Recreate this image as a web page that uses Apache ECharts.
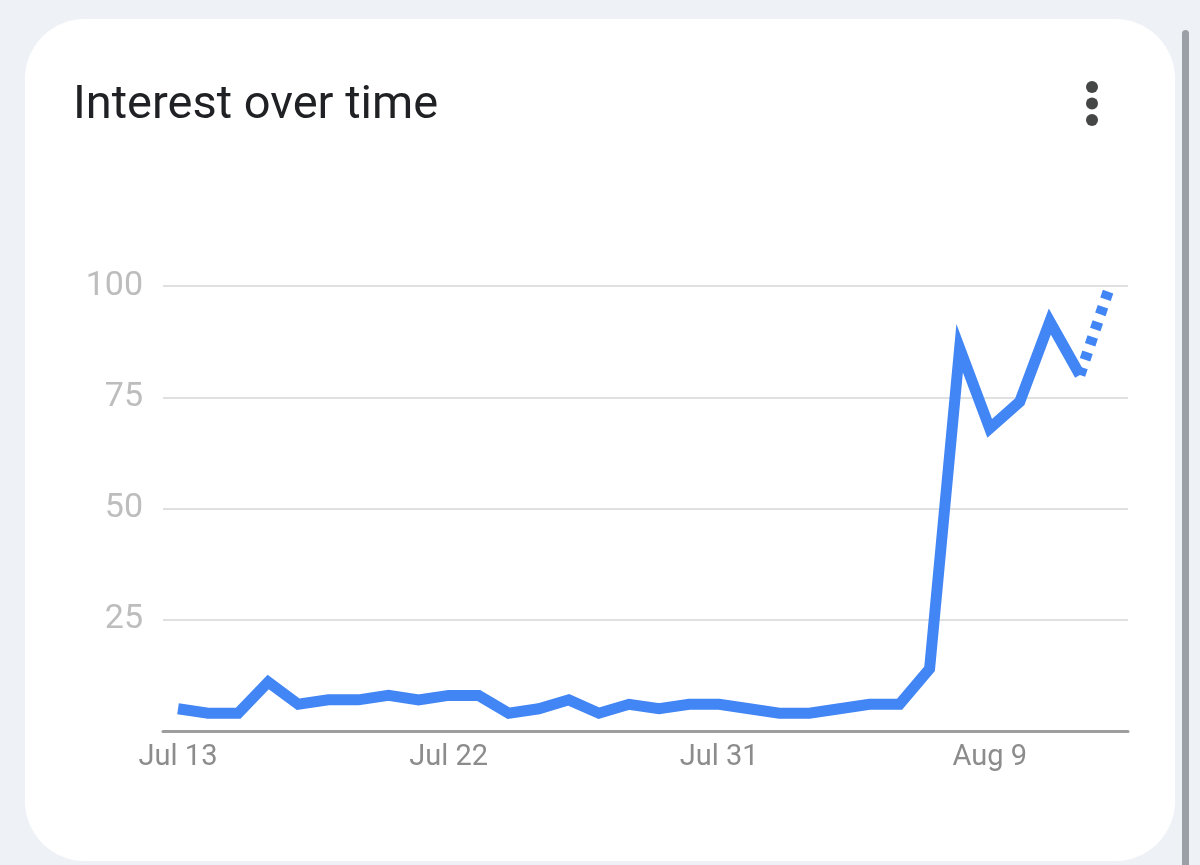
<!DOCTYPE html>
<html>
<head>
<meta charset="utf-8">
<script src="https://cdn.jsdelivr.net/npm/echarts@6/dist/echarts.min.js"></script>
<style>
  html, body { margin: 0; padding: 0; width: 1200px; height: 865px; background: #eef1f6; overflow: hidden; }
  #card { position: absolute; left: 25px; top: 19px; width: 1150px; height: 842px; background: #ffffff; border-radius: 60px; }
  #scroll { position: absolute; left: 1182px; top: 30px; width: 7px; height: 840px; background: #9aa0a6; border-radius: 4px; }
  #chart { position: absolute; left: 0; top: 0; width: 1200px; height: 865px; }
</style>
</head>
<body>
<div id="card"></div>
<div id="scroll"></div>
<div id="chart"></div>
<script>
// Daily interest values, Jul 13 .. Aug 13 (last point is partial data, drawn dotted)
const dates = ['Jul 13','Jul 14','Jul 15','Jul 16','Jul 17','Jul 18','Jul 19','Jul 20','Jul 21','Jul 22',
  'Jul 23','Jul 24','Jul 25','Jul 26','Jul 27','Jul 28','Jul 29','Jul 30','Jul 31','Aug 1',
  'Aug 2','Aug 3','Aug 4','Aug 5','Aug 6','Aug 7','Aug 8','Aug 9','Aug 10','Aug 11','Aug 12','Aug 13'];
const interest = [5,4,4,11,6,7,7,8,7,8,8,4,5,7,4,6,5,6,6,5,4,4,5,6,6,14,86,68,74,92,80,100];
const partialFrom = 30; // index where partial (dotted) segment starts
const xTickIndex = [0, 9, 18, 27];
const xTickLabels = ['Jul 13', 'Jul 22', 'Jul 31', 'Aug 9'];
const yTicks = [0, 25, 50, 75, 100];
const titleText = 'Interest over time';

const solidData = interest.slice(0, partialFrom + 1).map((v, i) => [i, v]);
const dottedData = interest.slice(partialFrom).map((v, i) => [i + partialFrom, v]);

const chart = echarts.init(document.getElementById('chart'), null, { renderer: 'canvas' });
chart.setOption({
  backgroundColor: 'transparent',
  animation: false,
  title: {
    text: titleText,
    left: 68, top: 78,
    textStyle: { fontFamily: 'Roboto', fontSize: 47, fontWeight: 'normal', color: '#202124' }
  },
  graphic: [
    { type: 'circle', shape: { cx: 1092, cy: 87, r: 6 }, style: { fill: '#444746' } },
    { type: 'circle', shape: { cx: 1092, cy: 103.5, r: 6 }, style: { fill: '#444746' } },
    { type: 'circle', shape: { cx: 1092, cy: 120, r: 6 }, style: { fill: '#444746' } }
  ],
  grid: { left: 163, right: 72, top: 286, bottom: 134, containLabel: false },
  xAxis: {
    type: 'value',
    min: -0.5, max: 31.6,
    axisLine: { show: true, lineStyle: { color: '#9e9e9e', width: 3 } },
    axisTick: { show: false },
    splitLine: { show: false },
    axisLabel: {
      customValues: xTickIndex,
      formatter: (v) => { const k = xTickIndex.indexOf(Math.round(v)); return k >= 0 ? xTickLabels[k] : ''; },
      color: '#8c8c8c', fontFamily: 'Roboto', fontSize: 29, margin: 12
    }
  },
  yAxis: {
    type: 'value',
    min: 0, max: 100, interval: 25,
    axisLine: { show: false },
    axisTick: { show: false },
    splitLine: { show: true, lineStyle: { color: '#e0e0e0', width: 2 } },
    axisLabel: {
      formatter: (v) => (v === 0 ? '' : String(v)),
      color: '#bdbdbd', fontFamily: 'Roboto', fontSize: 34, margin: 20
    }
  },
  series: [
    {
      type: 'line', data: solidData, symbol: 'none', z: 3,
      lineStyle: { color: '#4285f4', width: 11, join: 'miter', cap: 'butt' }
    },
    {
      type: 'line', data: dottedData, symbol: 'none', z: 3,
      lineStyle: { color: '#4285f4', width: 11, type: [8, 8], cap: 'butt' }
    }
  ]
});
</script>
</body>
</html>
